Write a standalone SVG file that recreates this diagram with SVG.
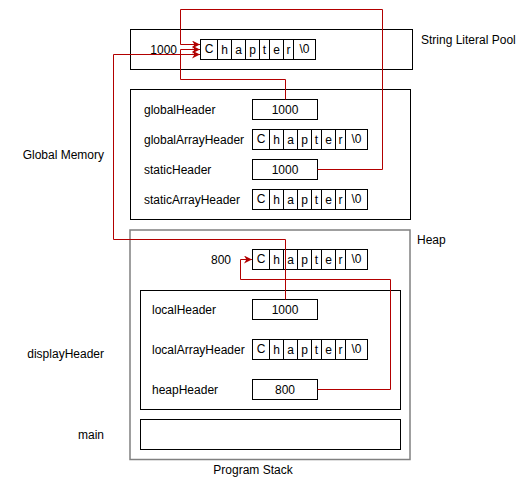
<svg xmlns="http://www.w3.org/2000/svg" width="525" height="482" viewBox="0 0 525 482">
<style>
text{font-family:"Liberation Sans",Arial,sans-serif;font-size:12px;fill:#000;dominant-baseline:central}
.box{fill:#fff;stroke:#000;stroke-width:1}
.grey{fill:#fff;stroke:#808080;stroke-width:1.5}
.cell{fill:none;stroke:#000;stroke-width:1}
.c{text-anchor:middle}
.r{text-anchor:end}
.link{fill:none;stroke:#b20000;stroke-width:1}
</style>
<defs>
<marker id="arr" viewBox="0 0 10 10" refX="10" refY="5" markerWidth="8" markerHeight="8" markerUnits="userSpaceOnUse" orient="auto">
<path d="M0,0 L10,5 L0,10 L3,5 z" fill="#b20000"/>
</marker>
</defs>

<g id="pool">
<rect class="box" x="130.5" y="29.5" width="282" height="40"/>
<text x="421" y="40">String Literal Pool</text>
<text class="r" x="177" y="50">1000</text>
<g transform="translate(200.5,39.5)">
<rect class="cell" x="0" y="0" width="115" height="20"/>
<path class="cell" d="M17,0V20M31,0V20M45,0V20M59,0V20M69,0V20M83,0V20M93,0V20"/>
<text class="c" x="8.5" y="9">C</text><text class="c" x="24" y="10">h</text><text class="c" x="38" y="10">a</text><text class="c" x="52" y="10">p</text><text class="c" x="64" y="10">t</text><text class="c" x="76" y="10">e</text><text class="c" x="88" y="10">r</text><text class="c" x="104" y="9">\0</text>
</g>
</g>

<g id="global">
<rect class="box" x="130.5" y="89.5" width="280" height="130"/>
<text class="r" x="104" y="155">Global Memory</text>
<text x="144" y="110">globalHeader</text>
<rect class="box" x="252.5" y="99.5" width="65" height="20"/>
<text class="c" x="285" y="110">1000</text>
<text x="144" y="140">globalArrayHeader</text>
<g transform="translate(252.5,129.5)">
<rect class="cell" x="0" y="0" width="115" height="20"/>
<path class="cell" d="M17,0V20M31,0V20M45,0V20M59,0V20M69,0V20M83,0V20M93,0V20"/>
<text class="c" x="8.5" y="9">C</text><text class="c" x="24" y="10">h</text><text class="c" x="38" y="10">a</text><text class="c" x="52" y="10">p</text><text class="c" x="64" y="10">t</text><text class="c" x="76" y="10">e</text><text class="c" x="88" y="10">r</text><text class="c" x="104" y="9">\0</text>
</g>
<text x="144" y="170">staticHeader</text>
<rect class="box" x="252.5" y="159.5" width="65" height="20"/>
<text class="c" x="285" y="170">1000</text>
<text x="144" y="200">staticArrayHeader</text>
<g transform="translate(252.5,189.5)">
<rect class="cell" x="0" y="0" width="115" height="20"/>
<path class="cell" d="M17,0V20M31,0V20M45,0V20M59,0V20M69,0V20M83,0V20M93,0V20"/>
<text class="c" x="8.5" y="9">C</text><text class="c" x="24" y="10">h</text><text class="c" x="38" y="10">a</text><text class="c" x="52" y="10">p</text><text class="c" x="64" y="10">t</text><text class="c" x="76" y="10">e</text><text class="c" x="88" y="10">r</text><text class="c" x="104" y="9">\0</text>
</g>
</g>

<g id="stack">
<rect class="grey" x="130" y="230" width="280" height="229.5"/>
<text x="417" y="240">Heap</text>
<text class="c" x="253" y="470">Program Stack</text>
<text class="r" x="231" y="260">800</text>
<g transform="translate(252.5,249.5)">
<rect class="cell" x="0" y="0" width="115" height="20"/>
<path class="cell" d="M17,0V20M31,0V20M45,0V20M59,0V20M69,0V20M83,0V20M93,0V20"/>
<text class="c" x="8.5" y="9">C</text><text class="c" x="24" y="10">h</text><text class="c" x="38" y="10">a</text><text class="c" x="52" y="10">p</text><text class="c" x="64" y="10">t</text><text class="c" x="76" y="10">e</text><text class="c" x="88" y="10">r</text><text class="c" x="104" y="9">\0</text>
</g>
</g>

<g id="displayHeader">
<rect class="box" x="140.5" y="290.5" width="260" height="119"/>
<text class="r" x="104" y="354">displayHeader</text>
<text x="152" y="310">localHeader</text>
<rect class="box" x="252.5" y="299.5" width="65" height="20"/>
<text class="c" x="285" y="310">1000</text>
<text x="152" y="350">localArrayHeader</text>
<g transform="translate(252.5,339.5)">
<rect class="cell" x="0" y="0" width="115" height="20"/>
<path class="cell" d="M17,0V20M31,0V20M45,0V20M59,0V20M69,0V20M83,0V20M93,0V20"/>
<text class="c" x="8.5" y="9">C</text><text class="c" x="24" y="10">h</text><text class="c" x="38" y="10">a</text><text class="c" x="52" y="10">p</text><text class="c" x="64" y="10">t</text><text class="c" x="76" y="10">e</text><text class="c" x="88" y="10">r</text><text class="c" x="104" y="9">\0</text>
</g>
<text x="152" y="390">heapHeader</text>
<rect class="box" x="252.5" y="379.5" width="65" height="20"/>
<text class="c" x="285" y="390">800</text>
</g>

<g id="main">
<rect class="box" x="140.5" y="419.5" width="260" height="30"/>
<text class="r" x="104" y="435">main</text>
</g>

<g id="connectors">
<path class="link" marker-end="url(#arr)" d="M317.5,169.5H382.5V9.5H180.5V44.5H200"/>
<path class="link" marker-end="url(#arr)" d="M285.5,99.5V79.5H180.5V49.5H200"/>
<path class="link" marker-end="url(#arr)" d="M285.5,299.5V239.5H113.5V54.5H200"/>
<path class="link" marker-end="url(#arr)" d="M317.5,389.5H390.5V279.5H240.5V259.5H252"/>
</g>
</svg>
